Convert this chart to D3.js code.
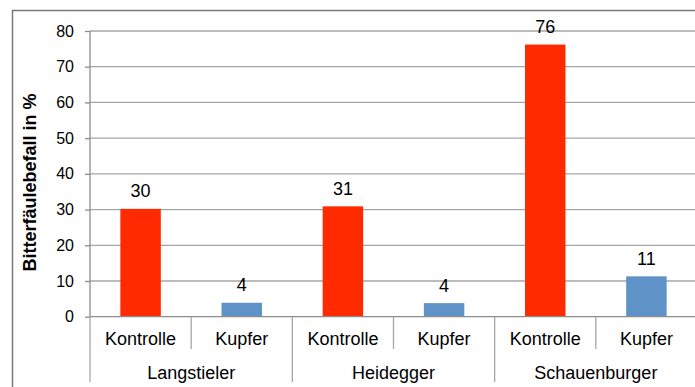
<!DOCTYPE html>
<html>
<head>
<meta charset="utf-8">
<script src="https://cdn.jsdelivr.net/npm/d3@7"></script>
<style>
  body { margin: 0; background: #fff; }
  text { font-family: Arial, "Liberation Sans", sans-serif; fill: #000; }
</style>
</head>
<body>
<div id="chart"></div>
<script>
// chart values
var sorten = ["Langstieler", "Heidegger", "Schauenburger"];
var varianten = ["Kontrolle", "Kupfer"];
var befall = [30.2, 3.9, 30.9, 3.8, 76.2, 11.3];
var yTicks = [0, 10, 20, 30, 40, 50, 60, 70, 80];
var colors = { Kontrolle: "#ff2a00", Kupfer: "#5f93c7" };

var w = 695;
var h = 387;
var pLeft = 90, pRight = 697, pTop = 31, pBottom = 316.7;

var svg = d3.select("#chart")
    .append("svg")
    .attr("width", w)
    .attr("height", h);

// outer frame
svg.append("rect")
    .attr("x", 12.5).attr("y", 10.5)
    .attr("width", w + 10).attr("height", h + 10)
    .attr("fill", "none")
    .attr("stroke", "#7a7a7a")
    .attr("stroke-width", 1.5);

// one entry per bar
var dataset = [];
sorten.forEach(function (s, i) {
    varianten.forEach(function (v, j) {
        dataset.push({ key: s + "|" + v, sorte: s, variante: v, value: befall[i * varianten.length + j] });
    });
});

var xScale = d3.scaleBand()
    .domain(dataset.map(function (d) { return d.key; }))
    .range([pLeft, pRight])
    .paddingInner(0.6)
    .paddingOuter(0.3);

var yScale = d3.scaleLinear()
    .domain([0, 80])
    .range([pBottom, pTop]);

// gridlines
svg.append("g")
    .selectAll("line")
    .data(yTicks.filter(function (t) { return t > 0; }))
    .enter().append("line")
    .attr("x1", pLeft).attr("x2", w)
    .attr("y1", function (d) { return yScale(d); })
    .attr("y2", function (d) { return yScale(d); })
    .attr("stroke", "#a6a6a6")
    .attr("stroke-width", 1.3);

// Y axis
var yAxis = d3.axisLeft(yScale)
    .tickValues(yTicks)
    .tickSize(5)
    .tickPadding(11);

var gy = svg.append("g")
    .attr("transform", "translate(" + pLeft + ",0)")
    .call(yAxis);
gy.select(".domain").attr("stroke", "#8c8c8c").attr("stroke-width", 1.3).attr("d", "M0," + pTop + "V" + pBottom);
gy.selectAll(".tick line").attr("stroke", "#8c8c8c").attr("stroke-width", 1.3);
gy.selectAll(".tick text").style("font-size", "16px").attr("fill", "#000");

// bars
svg.append("g")
    .selectAll("rect")
    .data(dataset)
    .enter().append("rect")
    .attr("x", function (d) { return xScale(d.key); })
    .attr("y", function (d) { return yScale(d.value); })
    .attr("width", xScale.bandwidth())
    .attr("height", function (d) { return yScale(0) - yScale(d.value); })
    .attr("fill", function (d) { return colors[d.variante]; });

// value labels
svg.append("g")
    .selectAll("text")
    .data(dataset)
    .enter().append("text")
    .attr("x", function (d) { return xScale(d.key) + xScale.bandwidth() / 2; })
    .attr("y", function (d) { return yScale(d.value) - 11.5; })
    .attr("text-anchor", "middle")
    .style("font-size", "18px")
    .text(function (d) { return d3.format(".0f")(d.value); });

// X axis baseline
svg.append("line")
    .attr("x1", pLeft).attr("x2", w)
    .attr("y1", pBottom).attr("y2", pBottom)
    .attr("stroke", "#8c8c8c").attr("stroke-width", 1.3);

// category separators and labels
var catW = (pRight - pLeft) / dataset.length;
var catStart = function (i) { return pLeft + i * catW; };

var sep = svg.append("g").attr("stroke", "#a6a6a6").attr("stroke-width", 1.3);
dataset.forEach(function (d, i) {
    var x = catStart(i);
    var isGroup = i % varianten.length === 0;
    sep.append("line")
        .attr("x1", x).attr("x2", x)
        .attr("y1", pBottom).attr("y2", isGroup ? 382 : 349);
});

svg.append("g")
    .selectAll("text")
    .data(dataset)
    .enter().append("text")
    .attr("x", function (d) { return xScale(d.key) + xScale.bandwidth() / 2; })
    .attr("y", 344.5)
    .attr("text-anchor", "middle")
    .style("font-size", "18px")
    .text(function (d) { return d.variante; });

svg.append("g")
    .selectAll("text")
    .data(sorten)
    .enter().append("text")
    .attr("x", function (d, i) { return catStart(i * varianten.length) + catW; })
    .attr("y", 378.5)
    .attr("text-anchor", "middle")
    .style("font-size", "18px")
    .text(function (d) { return d; });

// Y label
svg.append("text")
    .attr("transform", "translate(35.5,182.5) rotate(-90)")
    .attr("text-anchor", "middle")
    .style("font-size", "18px")
    .style("font-weight", "bold")
    .text("Bitterfäulebefall in %");
</script>
</body>
</html>
